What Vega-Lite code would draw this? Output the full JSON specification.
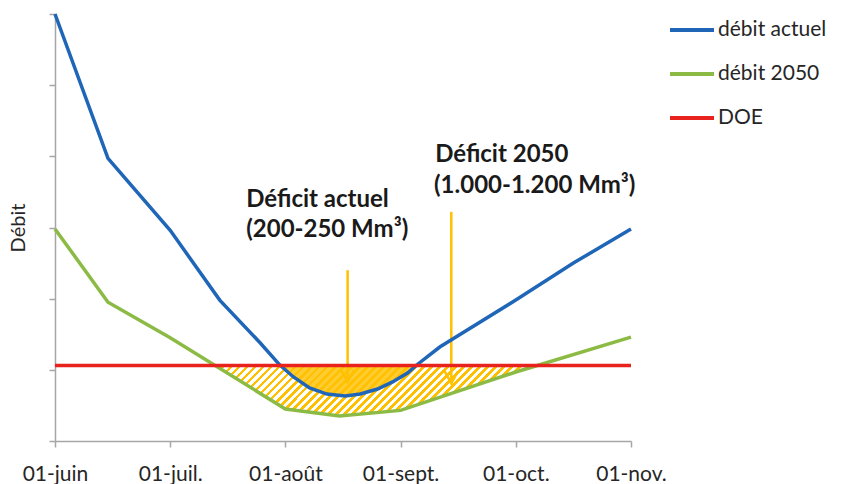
{
  "$schema": "https://vega.github.io/schema/vega-lite/v6.json",
  "width": 576,
  "height": 427,
  "autosize": "none",
  "padding": {"left": 55, "top": 14, "right": 212, "bottom": 43},
  "background": "white",
  "config": {
    "view": {"stroke": null},
    "font": "Lato",
    "axis": {"grid": false, "domainColor": "#A6A6A6", "tickColor": "#A6A6A6", "domainWidth": 1.5, "tickWidth": 1.5, "tickSize": 6, "labelFont": "Lato", "titleFont": "Lato"}
  },
  "datasets": {
    "lines": [
      {"m": 0, "v": 6.0, "s": "débit actuel"},
      {"m": 0.46, "v": 3.97, "s": "débit actuel"},
      {"m": 1.0, "v": 2.96, "s": "débit actuel"},
      {"m": 1.43, "v": 1.98, "s": "débit actuel"},
      {"m": 1.78, "v": 1.38, "s": "débit actuel"},
      {"m": 1.95, "v": 1.07, "s": "débit actuel"},
      {"m": 2.07, "v": 0.9, "s": "débit actuel"},
      {"m": 2.21, "v": 0.745, "s": "débit actuel"},
      {"m": 2.36, "v": 0.66, "s": "débit actuel"},
      {"m": 2.52, "v": 0.632, "s": "débit actuel"},
      {"m": 2.65, "v": 0.66, "s": "débit actuel"},
      {"m": 2.8, "v": 0.73, "s": "débit actuel"},
      {"m": 2.93, "v": 0.83, "s": "débit actuel"},
      {"m": 3.06, "v": 0.955, "s": "débit actuel"},
      {"m": 3.14, "v": 1.068, "s": "débit actuel"},
      {"m": 3.34, "v": 1.32, "s": "débit actuel"},
      {"m": 4.0, "v": 1.98, "s": "débit actuel"},
      {"m": 4.5, "v": 2.5, "s": "débit actuel"},
      {"m": 5.0, "v": 2.98, "s": "débit actuel"},
      {"m": 0, "v": 2.98, "s": "débit 2050"},
      {"m": 0.46, "v": 1.95, "s": "débit 2050"},
      {"m": 1.0, "v": 1.45, "s": "débit 2050"},
      {"m": 2.0, "v": 0.45, "s": "débit 2050"},
      {"m": 2.47, "v": 0.35, "s": "débit 2050"},
      {"m": 3.0, "v": 0.43, "s": "débit 2050"},
      {"m": 4.0, "v": 0.97, "s": "débit 2050"},
      {"m": 5.0, "v": 1.46, "s": "débit 2050"},
      {"m": 0, "v": 1.06, "s": "DOE"},
      {"m": 5.0, "v": 1.06, "s": "DOE"}
    ],
    "hatch": [
      {"m": 1.39, "v": 1.06},
      {"m": 2.0, "v": 0.45},
      {"m": 2.47, "v": 0.35},
      {"m": 3.0, "v": 0.43},
      {"m": 4.0, "v": 0.97},
      {"m": 4.15, "v": 1.06}
    ],
    "solid": [
      {"m": 1.955, "v": 1.06},
      {"m": 2.07, "v": 0.9},
      {"m": 2.21, "v": 0.745},
      {"m": 2.36, "v": 0.66},
      {"m": 2.52, "v": 0.632},
      {"m": 2.65, "v": 0.66},
      {"m": 2.8, "v": 0.73},
      {"m": 2.93, "v": 0.83},
      {"m": 3.06, "v": 0.955},
      {"m": 3.135, "v": 1.06}
    ],
    "arrows": [
      {"m": 2.54, "top": 2.4, "tip": 0.83},
      {"m": 3.44, "top": 3.22, "tip": 0.81}
    ],
    "notes": [
      {"m": 1.66, "v": 3.29, "t": "Déficit actuel"},
      {"m": 1.66, "v": 2.87, "t": "(200-250 Mm³)"},
      {"m": 3.3, "v": 3.92, "t": "Déficit 2050"},
      {"m": 3.29, "v": 3.485, "t": "(1.000-1.200 Mm³)"}
    ]
  },
  "layer": [
    {
      "data": {"name": "hatch"},
      "mark": {
        "type": "area",
        "fill": {
          "gradient": "linear", "x1": 0, "y1": 0, "x2": 1.13, "y2": 0.1795,
          "stops": [
            {"offset": 0, "color": "#FFC000"}, {"offset": 0.0087, "color": "#FFC000"}, {"offset": 0.0087, "color": "#fff"}, {"offset": 0.0217, "color": "#fff"},
            {"offset": 0.0217, "color": "#FFC000"}, {"offset": 0.0304, "color": "#FFC000"}, {"offset": 0.0304, "color": "#fff"}, {"offset": 0.0435, "color": "#fff"},
            {"offset": 0.0435, "color": "#FFC000"}, {"offset": 0.0522, "color": "#FFC000"}, {"offset": 0.0522, "color": "#fff"}, {"offset": 0.0652, "color": "#fff"},
            {"offset": 0.0652, "color": "#FFC000"}, {"offset": 0.0739, "color": "#FFC000"}, {"offset": 0.0739, "color": "#fff"}, {"offset": 0.087, "color": "#fff"},
            {"offset": 0.087, "color": "#FFC000"}, {"offset": 0.0957, "color": "#FFC000"}, {"offset": 0.0957, "color": "#fff"}, {"offset": 0.1087, "color": "#fff"},
            {"offset": 0.1087, "color": "#FFC000"}, {"offset": 0.1174, "color": "#FFC000"}, {"offset": 0.1174, "color": "#fff"}, {"offset": 0.1304, "color": "#fff"},
            {"offset": 0.1304, "color": "#FFC000"}, {"offset": 0.1391, "color": "#FFC000"}, {"offset": 0.1391, "color": "#fff"}, {"offset": 0.1522, "color": "#fff"},
            {"offset": 0.1522, "color": "#FFC000"}, {"offset": 0.1609, "color": "#FFC000"}, {"offset": 0.1609, "color": "#fff"}, {"offset": 0.1739, "color": "#fff"},
            {"offset": 0.1739, "color": "#FFC000"}, {"offset": 0.1826, "color": "#FFC000"}, {"offset": 0.1826, "color": "#fff"}, {"offset": 0.1957, "color": "#fff"},
            {"offset": 0.1957, "color": "#FFC000"}, {"offset": 0.2044, "color": "#FFC000"}, {"offset": 0.2044, "color": "#fff"}, {"offset": 0.2174, "color": "#fff"},
            {"offset": 0.2174, "color": "#FFC000"}, {"offset": 0.2261, "color": "#FFC000"}, {"offset": 0.2261, "color": "#fff"}, {"offset": 0.2391, "color": "#fff"},
            {"offset": 0.2391, "color": "#FFC000"}, {"offset": 0.2478, "color": "#FFC000"}, {"offset": 0.2478, "color": "#fff"}, {"offset": 0.2609, "color": "#fff"},
            {"offset": 0.2609, "color": "#FFC000"}, {"offset": 0.2696, "color": "#FFC000"}, {"offset": 0.2696, "color": "#fff"}, {"offset": 0.2826, "color": "#fff"},
            {"offset": 0.2826, "color": "#FFC000"}, {"offset": 0.2913, "color": "#FFC000"}, {"offset": 0.2913, "color": "#fff"}, {"offset": 0.3043, "color": "#fff"},
            {"offset": 0.3043, "color": "#FFC000"}, {"offset": 0.313, "color": "#FFC000"}, {"offset": 0.313, "color": "#fff"}, {"offset": 0.3261, "color": "#fff"},
            {"offset": 0.3261, "color": "#FFC000"}, {"offset": 0.3348, "color": "#FFC000"}, {"offset": 0.3348, "color": "#fff"}, {"offset": 0.3478, "color": "#fff"},
            {"offset": 0.3478, "color": "#FFC000"}, {"offset": 0.3565, "color": "#FFC000"}, {"offset": 0.3565, "color": "#fff"}, {"offset": 0.3696, "color": "#fff"},
            {"offset": 0.3696, "color": "#FFC000"}, {"offset": 0.3783, "color": "#FFC000"}, {"offset": 0.3783, "color": "#fff"}, {"offset": 0.3913, "color": "#fff"},
            {"offset": 0.3913, "color": "#FFC000"}, {"offset": 0.4, "color": "#FFC000"}, {"offset": 0.4, "color": "#fff"}, {"offset": 0.413, "color": "#fff"},
            {"offset": 0.413, "color": "#FFC000"}, {"offset": 0.4217, "color": "#FFC000"}, {"offset": 0.4217, "color": "#fff"}, {"offset": 0.4348, "color": "#fff"},
            {"offset": 0.4348, "color": "#FFC000"}, {"offset": 0.4435, "color": "#FFC000"}, {"offset": 0.4435, "color": "#fff"}, {"offset": 0.4565, "color": "#fff"},
            {"offset": 0.4565, "color": "#FFC000"}, {"offset": 0.4652, "color": "#FFC000"}, {"offset": 0.4652, "color": "#fff"}, {"offset": 0.4783, "color": "#fff"},
            {"offset": 0.4783, "color": "#FFC000"}, {"offset": 0.487, "color": "#FFC000"}, {"offset": 0.487, "color": "#fff"}, {"offset": 0.5, "color": "#fff"},
            {"offset": 0.5, "color": "#FFC000"}, {"offset": 0.5087, "color": "#FFC000"}, {"offset": 0.5087, "color": "#fff"}, {"offset": 0.5217, "color": "#fff"},
            {"offset": 0.5217, "color": "#FFC000"}, {"offset": 0.5304, "color": "#FFC000"}, {"offset": 0.5304, "color": "#fff"}, {"offset": 0.5435, "color": "#fff"},
            {"offset": 0.5435, "color": "#FFC000"}, {"offset": 0.5522, "color": "#FFC000"}, {"offset": 0.5522, "color": "#fff"}, {"offset": 0.5652, "color": "#fff"},
            {"offset": 0.5652, "color": "#FFC000"}, {"offset": 0.5739, "color": "#FFC000"}, {"offset": 0.5739, "color": "#fff"}, {"offset": 0.587, "color": "#fff"},
            {"offset": 0.587, "color": "#FFC000"}, {"offset": 0.5957, "color": "#FFC000"}, {"offset": 0.5957, "color": "#fff"}, {"offset": 0.6087, "color": "#fff"},
            {"offset": 0.6087, "color": "#FFC000"}, {"offset": 0.6174, "color": "#FFC000"}, {"offset": 0.6174, "color": "#fff"}, {"offset": 0.6304, "color": "#fff"},
            {"offset": 0.6304, "color": "#FFC000"}, {"offset": 0.6391, "color": "#FFC000"}, {"offset": 0.6391, "color": "#fff"}, {"offset": 0.6522, "color": "#fff"},
            {"offset": 0.6522, "color": "#FFC000"}, {"offset": 0.6609, "color": "#FFC000"}, {"offset": 0.6609, "color": "#fff"}, {"offset": 0.6739, "color": "#fff"},
            {"offset": 0.6739, "color": "#FFC000"}, {"offset": 0.6826, "color": "#FFC000"}, {"offset": 0.6826, "color": "#fff"}, {"offset": 0.6957, "color": "#fff"},
            {"offset": 0.6957, "color": "#FFC000"}, {"offset": 0.7044, "color": "#FFC000"}, {"offset": 0.7044, "color": "#fff"}, {"offset": 0.7174, "color": "#fff"},
            {"offset": 0.7174, "color": "#FFC000"}, {"offset": 0.7261, "color": "#FFC000"}, {"offset": 0.7261, "color": "#fff"}, {"offset": 0.7391, "color": "#fff"},
            {"offset": 0.7391, "color": "#FFC000"}, {"offset": 0.7478, "color": "#FFC000"}, {"offset": 0.7478, "color": "#fff"}, {"offset": 0.7609, "color": "#fff"},
            {"offset": 0.7609, "color": "#FFC000"}, {"offset": 0.7696, "color": "#FFC000"}, {"offset": 0.7696, "color": "#fff"}, {"offset": 0.7826, "color": "#fff"},
            {"offset": 0.7826, "color": "#FFC000"}, {"offset": 0.7913, "color": "#FFC000"}, {"offset": 0.7913, "color": "#fff"}, {"offset": 0.8043, "color": "#fff"},
            {"offset": 0.8043, "color": "#FFC000"}, {"offset": 0.813, "color": "#FFC000"}, {"offset": 0.813, "color": "#fff"}, {"offset": 0.8261, "color": "#fff"},
            {"offset": 0.8261, "color": "#FFC000"}, {"offset": 0.8348, "color": "#FFC000"}, {"offset": 0.8348, "color": "#fff"}, {"offset": 0.8478, "color": "#fff"},
            {"offset": 0.8478, "color": "#FFC000"}, {"offset": 0.8565, "color": "#FFC000"}, {"offset": 0.8565, "color": "#fff"}, {"offset": 0.8696, "color": "#fff"},
            {"offset": 0.8696, "color": "#FFC000"}, {"offset": 0.8783, "color": "#FFC000"}, {"offset": 0.8783, "color": "#fff"}, {"offset": 0.8913, "color": "#fff"},
            {"offset": 0.8913, "color": "#FFC000"}, {"offset": 0.9, "color": "#FFC000"}, {"offset": 0.9, "color": "#fff"}, {"offset": 0.913, "color": "#fff"},
            {"offset": 0.913, "color": "#FFC000"}, {"offset": 0.9217, "color": "#FFC000"}, {"offset": 0.9217, "color": "#fff"}, {"offset": 0.9348, "color": "#fff"},
            {"offset": 0.9348, "color": "#FFC000"}, {"offset": 0.9435, "color": "#FFC000"}, {"offset": 0.9435, "color": "#fff"}, {"offset": 0.9565, "color": "#fff"},
            {"offset": 0.9565, "color": "#FFC000"}, {"offset": 0.9652, "color": "#FFC000"}, {"offset": 0.9652, "color": "#fff"}, {"offset": 0.9783, "color": "#fff"},
            {"offset": 0.9783, "color": "#FFC000"}, {"offset": 0.987, "color": "#FFC000"}, {"offset": 0.987, "color": "#fff"}, {"offset": 1, "color": "#fff"}
          ]
        }
      },
      "encoding": {
        "x": {"field": "m", "type": "quantitative", "scale": {"domain": [0, 5], "nice": false, "zero": false},
          "axis": {"values": [0, 1, 2, 3, 4, 5], "title": null, "labelExpr": "['01-juin','01-juil.','01-août','01-sept.','01-oct.','01-nov.'][datum.value]", "labelFontSize": 21, "labelColor": "#262626", "labelPadding": 16, "labelOverlap": false, "labelFlush": false}},
        "y": {"field": "v", "type": "quantitative", "scale": {"domain": [0, 6], "nice": false},
          "axis": {"values": [0, 1, 2, 3, 4, 5, 6], "labels": false, "title": "Débit", "titleFontSize": 20, "titleFontWeight": "normal", "titleColor": "#262626", "titlePadding": 20}},
        "y2": {"datum": 1.06}
      }
    },
    {
      "data": {"name": "solid"},
      "mark": {"type": "area", "fill": "#FFC000", "opacity": 0.8},
      "encoding": {
        "x": {"field": "m", "type": "quantitative"},
        "y": {"field": "v", "type": "quantitative"},
        "y2": {"datum": 1.06}
      }
    },
    {
      "data": {"name": "arrows"},
      "mark": {"type": "rule", "color": "#FFC000", "strokeWidth": 2.5},
      "encoding": {
        "x": {"field": "m", "type": "quantitative"},
        "y": {"field": "top", "type": "quantitative"},
        "y2": {"field": "tip"}
      }
    },
    {
      "data": {"name": "arrows"},
      "mark": {"type": "point", "shape": "M -1.3 -2.4 L 0 0 L 1.3 -2.4", "size": 100, "filled": false, "stroke": "#FFC000", "strokeWidth": 2.5, "opacity": 1},
      "encoding": {
        "x": {"field": "m", "type": "quantitative"},
        "y": {"field": "tip", "type": "quantitative"}
      }
    },
    {
      "data": {"name": "lines"},
      "mark": {"type": "line", "strokeWidth": 3.5},
      "encoding": {
        "x": {"field": "m", "type": "quantitative"},
        "y": {"field": "v", "type": "quantitative"},
        "color": {"field": "s", "type": "nominal",
          "scale": {"domain": ["débit actuel", "débit 2050", "DOE"], "range": ["#1F66B8", "#8CBB45", "#E8221C"]},
          "legend": {"orient": "none", "legendX": 613, "legendY": -8, "title": null, "symbolType": "stroke", "symbolSize": 1936, "symbolStrokeWidth": 4, "labelFont": "Lato", "labelFontSize": 21, "labelColor": "#262626", "rowPadding": 10, "labelOffset": 2, "padding": 0}},
        "order": {"field": "m", "type": "quantitative"}
      }
    },
    {
      "data": {"name": "notes"},
      "mark": {"type": "text", "align": "left", "baseline": "alphabetic", "font": "Lato", "fontWeight": "bold", "fontSize": 24, "color": "#1a1a1a"},
      "encoding": {
        "x": {"field": "m", "type": "quantitative"},
        "y": {"field": "v", "type": "quantitative"},
        "text": {"field": "t"}
      }
    }
  ]
}
